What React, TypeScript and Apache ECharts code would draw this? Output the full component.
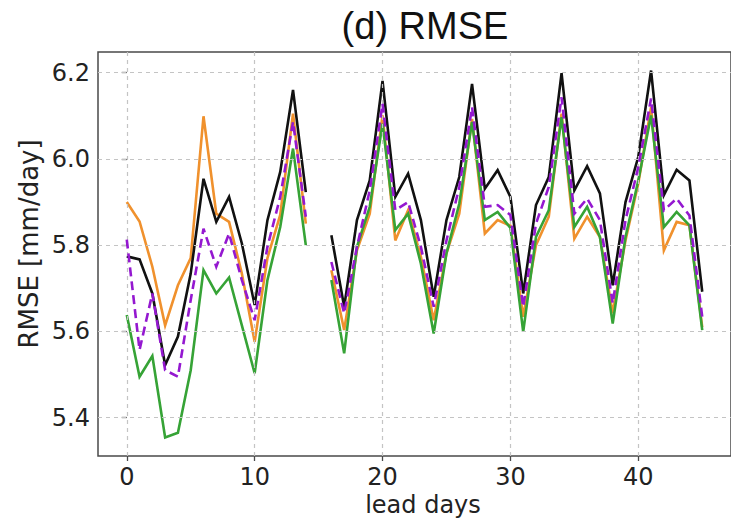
import React, { useEffect, useRef } from "react";
import * as echarts from "echarts";

const days: number[] = Array.from({ length: 46 }, (_, i) => i);

const orangeVals: (number | null)[] = [
  5.9, 5.855, 5.75, 5.614, 5.707, 5.77, 6.099, 5.873, 5.854, 5.734, 5.576, 5.77, 5.87, 6.105, 5.85,
  null,
  5.742, 5.603, 5.788, 5.873, 6.101, 5.811, 5.881, 5.773, 5.626, 5.781, 5.873, 6.093, 5.827, 5.858,
  5.845, 5.634, 5.8, 5.866, 6.105, 5.815, 5.866, 5.819, 5.642, 5.811, 5.943, 6.12, 5.788, 5.854, 5.846, 5.61,
];

const blackVals: (number | null)[] = [
  5.774, 5.767, 5.688, 5.522, 5.588, 5.734, 5.954, 5.854, 5.912, 5.804, 5.661, 5.858, 5.97, 6.16, 5.923,
  null,
  5.823, 5.657, 5.858, 5.95, 6.181, 5.912, 5.966, 5.858, 5.68, 5.858, 5.958, 6.174, 5.931, 5.974,
  5.912, 5.688, 5.893, 5.958, 6.199, 5.927, 5.983, 5.92, 5.707, 5.9, 6.005, 6.205, 5.916, 5.975, 5.95, 5.692,
];

const purpleVals: (number | null)[] = [
  5.813, 5.557, 5.688, 5.51, 5.495, 5.673, 5.838, 5.75, 5.827, 5.719, 5.626, 5.796, 5.912, 6.086, 5.866,
  null,
  5.761, 5.642, 5.796, 5.927, 6.128, 5.881, 5.9, 5.796, 5.657, 5.811, 5.935, 6.12, 5.889, 5.893,
  5.87, 5.657, 5.85, 5.935, 6.143, 5.873, 5.908, 5.858, 5.665, 5.858, 5.981, 6.14, 5.881, 5.908, 5.869, 5.634,
];

const greenVals: (number | null)[] = [
  5.638, 5.495, 5.543, 5.354, 5.365, 5.51, 5.742, 5.688, 5.725, 5.614, 5.503, 5.719, 5.842, 6.024, 5.8,
  null,
  5.719, 5.549, 5.796, 5.889, 6.082, 5.835, 5.873, 5.757, 5.595, 5.781, 5.896, 6.086, 5.858, 5.877,
  5.84, 5.599, 5.819, 5.881, 6.097, 5.842, 5.889, 5.819, 5.618, 5.819, 5.95, 6.101, 5.842, 5.877, 5.846, 5.603,
];

const xTicks: number[] = [0, 10, 20, 30, 40];
const yTicks: number[] = [5.4, 5.6, 5.8, 6.0, 6.2];

const titleText = "(d) RMSE";
const xName = "lead days";
const yName = "RMSE [mm/day]";

const AXIS_FONT = "DejaVu Sans";

function toPairs(vals: (number | null)[]) {
  return days.map((d, i) => [d, vals[i]]);
}

export default function App() {
  const ref = useRef<HTMLDivElement>(null);

  useEffect(() => {
    if (!ref.current) return;
    const chart = echarts.init(ref.current, null, { renderer: "svg" });

    const gridLeft = 98;
    const gridTop = 52;
    const gridWidth = 647;
    const gridHeight = 404;

    const lineBase = (name: string, color: string, vals: (number | null)[], z: number, dashed = false) => ({
      name,
      type: "line",
      data: toPairs(vals),
      showSymbol: false,
      symbol: "none",
      connectNulls: false,
      z,
      lineStyle: {
        color,
        width: 2.6,
        type: dashed ? [9, 5] : "solid",
        cap: "butt",
        join: "miter",
      },
      itemStyle: { color },
      silent: true,
    });

    const option: any = {
      animation: false,
      backgroundColor: "#ffffff",
      grid: {
        left: gridLeft,
        top: gridTop,
        width: gridWidth,
        height: gridHeight,
        show: true,
        borderColor: "#4a4a4a",
        borderWidth: 1.5,
        backgroundColor: "transparent",
      },
      xAxis: {
        type: "value",
        min: -2.25,
        max: 47.25,
        axisLine: { show: false },
        splitLine: { show: false },
        axisTick: {
          show: true,
          customValues: xTicks,
          length: 5,
          lineStyle: { color: "#4a4a4a", width: 1.3 },
        },
        axisLabel: {
          customValues: xTicks,
          fontSize: 24,
          fontFamily: AXIS_FONT,
          color: "#222222",
          margin: 9,
          formatter: (v: number) => String(v),
        },
      },
      yAxis: {
        type: "value",
        min: 5.311,
        max: 6.248,
        axisLine: { show: false },
        splitLine: { show: false },
        axisTick: {
          show: true,
          customValues: yTicks,
          length: 5,
          lineStyle: { color: "#4a4a4a", width: 1.3 },
        },
        axisLabel: {
          customValues: yTicks,
          fontSize: 24,
          fontFamily: AXIS_FONT,
          color: "#222222",
          margin: 8,
          formatter: (v: number) => v.toFixed(1),
        },
      },
      series: [
        {
          name: "grid",
          type: "line",
          data: [],
          z: 1,
          silent: true,
          markLine: {
            silent: true,
            symbol: ["none", "none"],
            label: { show: false },
            lineStyle: { color: "#c4c4c4", width: 1.2, type: [4, 4] },
            emphasis: { disabled: true },
            data: [
              ...yTicks.map((v) => ({ yAxis: v })),
              ...xTicks.map((v) => ({ xAxis: v })),
            ],
          },
        },
        lineBase("orange", "#f0912d", orangeVals, 2),
        lineBase("green", "#36a336", greenVals, 3),
        lineBase("black", "#111111", blackVals, 4),
        lineBase("purple", "#9418d0", purpleVals, 5, true),
      ],
      graphic: [
        {
          type: "text",
          x: 425,
          y: 26,
          style: {
            text: titleText,
            fontSize: 38,
            fontFamily: "Liberation Sans",
            fill: "#111111",
            textAlign: "center",
            textVerticalAlign: "middle",
          },
        },
        {
          type: "text",
          x: 29,
          y: 244,
          rotation: Math.PI / 2,
          style: {
            text: yName,
            fontSize: 26,
            fontFamily: AXIS_FONT,
            fill: "#222222",
            textAlign: "center",
            textVerticalAlign: "middle",
          },
        },
        {
          type: "text",
          x: 423,
          y: 505,
          style: {
            text: xName,
            fontSize: 24,
            fontFamily: AXIS_FONT,
            fill: "#222222",
            textAlign: "center",
            textVerticalAlign: "middle",
          },
        },
      ],
    };

    chart.setOption(option);
    return () => chart.dispose();
  }, []);

  return (
    <div
      ref={ref}
      style={{ position: "fixed", left: 0, top: 0, width: 731, height: 521, background: "#fff" }}
    />
  );
}
